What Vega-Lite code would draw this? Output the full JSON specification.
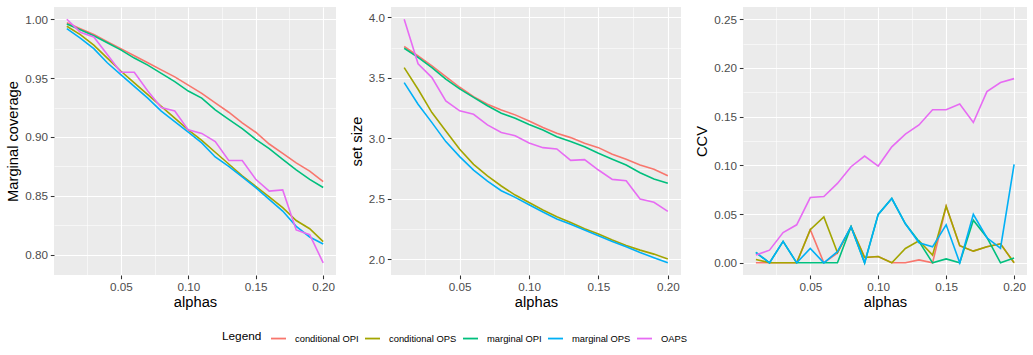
{
"$schema":"https://vega.github.io/schema/vega-lite/v6.json",
"padding":{"left":5,"top":7,"right":5,"bottom":5},
"background":"white",
"data":{"values":[
{"alphas":0.01,"method":"conditional OPI","metric":"cov","value":0.997},
{"alphas":0.02,"method":"conditional OPI","metric":"cov","value":0.992},
{"alphas":0.03,"method":"conditional OPI","metric":"cov","value":0.987},
{"alphas":0.04,"method":"conditional OPI","metric":"cov","value":0.981},
{"alphas":0.05,"method":"conditional OPI","metric":"cov","value":0.975},
{"alphas":0.06,"method":"conditional OPI","metric":"cov","value":0.969},
{"alphas":0.07,"method":"conditional OPI","metric":"cov","value":0.963},
{"alphas":0.08,"method":"conditional OPI","metric":"cov","value":0.957},
{"alphas":0.09,"method":"conditional OPI","metric":"cov","value":0.951},
{"alphas":0.10,"method":"conditional OPI","metric":"cov","value":0.944},
{"alphas":0.11,"method":"conditional OPI","metric":"cov","value":0.937},
{"alphas":0.12,"method":"conditional OPI","metric":"cov","value":0.929},
{"alphas":0.13,"method":"conditional OPI","metric":"cov","value":0.921},
{"alphas":0.14,"method":"conditional OPI","metric":"cov","value":0.912},
{"alphas":0.15,"method":"conditional OPI","metric":"cov","value":0.904},
{"alphas":0.16,"method":"conditional OPI","metric":"cov","value":0.894},
{"alphas":0.17,"method":"conditional OPI","metric":"cov","value":0.886},
{"alphas":0.18,"method":"conditional OPI","metric":"cov","value":0.878},
{"alphas":0.19,"method":"conditional OPI","metric":"cov","value":0.871},
{"alphas":0.20,"method":"conditional OPI","metric":"cov","value":0.862},
{"alphas":0.01,"method":"conditional OPI","metric":"size","value":3.760},
{"alphas":0.02,"method":"conditional OPI","metric":"size","value":3.683},
{"alphas":0.03,"method":"conditional OPI","metric":"size","value":3.600},
{"alphas":0.04,"method":"conditional OPI","metric":"size","value":3.512},
{"alphas":0.05,"method":"conditional OPI","metric":"size","value":3.423},
{"alphas":0.06,"method":"conditional OPI","metric":"size","value":3.346},
{"alphas":0.07,"method":"conditional OPI","metric":"size","value":3.283},
{"alphas":0.08,"method":"conditional OPI","metric":"size","value":3.236},
{"alphas":0.09,"method":"conditional OPI","metric":"size","value":3.195},
{"alphas":0.10,"method":"conditional OPI","metric":"size","value":3.145},
{"alphas":0.11,"method":"conditional OPI","metric":"size","value":3.090},
{"alphas":0.12,"method":"conditional OPI","metric":"size","value":3.043},
{"alphas":0.13,"method":"conditional OPI","metric":"size","value":3.007},
{"alphas":0.14,"method":"conditional OPI","metric":"size","value":2.960},
{"alphas":0.15,"method":"conditional OPI","metric":"size","value":2.924},
{"alphas":0.16,"method":"conditional OPI","metric":"size","value":2.869},
{"alphas":0.17,"method":"conditional OPI","metric":"size","value":2.828},
{"alphas":0.18,"method":"conditional OPI","metric":"size","value":2.780},
{"alphas":0.19,"method":"conditional OPI","metric":"size","value":2.745},
{"alphas":0.20,"method":"conditional OPI","metric":"size","value":2.692},
{"alphas":0.01,"method":"conditional OPI","metric":"ccv","value":0},
{"alphas":0.02,"method":"conditional OPI","metric":"ccv","value":0},
{"alphas":0.03,"method":"conditional OPI","metric":"ccv","value":0},
{"alphas":0.04,"method":"conditional OPI","metric":"ccv","value":0},
{"alphas":0.05,"method":"conditional OPI","metric":"ccv","value":0.034},
{"alphas":0.06,"method":"conditional OPI","metric":"ccv","value":0},
{"alphas":0.07,"method":"conditional OPI","metric":"ccv","value":0.010},
{"alphas":0.08,"method":"conditional OPI","metric":"ccv","value":0.037},
{"alphas":0.09,"method":"conditional OPI","metric":"ccv","value":0.0055},
{"alphas":0.10,"method":"conditional OPI","metric":"ccv","value":0.0065},
{"alphas":0.11,"method":"conditional OPI","metric":"ccv","value":0},
{"alphas":0.12,"method":"conditional OPI","metric":"ccv","value":0},
{"alphas":0.13,"method":"conditional OPI","metric":"ccv","value":0.003},
{"alphas":0.14,"method":"conditional OPI","metric":"ccv","value":0},
{"alphas":0.15,"method":"conditional OPI","metric":"ccv","value":0.058},
{"alphas":0.16,"method":"conditional OPI","metric":"ccv","value":0.0175},
{"alphas":0.17,"method":"conditional OPI","metric":"ccv","value":0.012},
{"alphas":0.18,"method":"conditional OPI","metric":"ccv","value":0.0165},
{"alphas":0.19,"method":"conditional OPI","metric":"ccv","value":0.0195},
{"alphas":0.20,"method":"conditional OPI","metric":"ccv","value":0},
{"alphas":0.01,"method":"conditional OPS","metric":"cov","value":0.994},
{"alphas":0.02,"method":"conditional OPS","metric":"cov","value":0.987},
{"alphas":0.03,"method":"conditional OPS","metric":"cov","value":0.978},
{"alphas":0.04,"method":"conditional OPS","metric":"cov","value":0.967},
{"alphas":0.05,"method":"conditional OPS","metric":"cov","value":0.956},
{"alphas":0.06,"method":"conditional OPS","metric":"cov","value":0.946},
{"alphas":0.07,"method":"conditional OPS","metric":"cov","value":0.936},
{"alphas":0.08,"method":"conditional OPS","metric":"cov","value":0.926},
{"alphas":0.09,"method":"conditional OPS","metric":"cov","value":0.916},
{"alphas":0.10,"method":"conditional OPS","metric":"cov","value":0.906},
{"alphas":0.11,"method":"conditional OPS","metric":"cov","value":0.897},
{"alphas":0.12,"method":"conditional OPS","metric":"cov","value":0.887},
{"alphas":0.13,"method":"conditional OPS","metric":"cov","value":0.877},
{"alphas":0.14,"method":"conditional OPS","metric":"cov","value":0.867},
{"alphas":0.15,"method":"conditional OPS","metric":"cov","value":0.858},
{"alphas":0.16,"method":"conditional OPS","metric":"cov","value":0.849},
{"alphas":0.17,"method":"conditional OPS","metric":"cov","value":0.840},
{"alphas":0.18,"method":"conditional OPS","metric":"cov","value":0.829},
{"alphas":0.19,"method":"conditional OPS","metric":"cov","value":0.822},
{"alphas":0.20,"method":"conditional OPS","metric":"cov","value":0.811},
{"alphas":0.01,"method":"conditional OPS","metric":"size","value":3.586},
{"alphas":0.02,"method":"conditional OPS","metric":"size","value":3.407},
{"alphas":0.03,"method":"conditional OPS","metric":"size","value":3.214},
{"alphas":0.04,"method":"conditional OPS","metric":"size","value":3.062},
{"alphas":0.05,"method":"conditional OPS","metric":"size","value":2.910},
{"alphas":0.06,"method":"conditional OPS","metric":"size","value":2.786},
{"alphas":0.07,"method":"conditional OPS","metric":"size","value":2.690},
{"alphas":0.08,"method":"conditional OPS","metric":"size","value":2.607},
{"alphas":0.09,"method":"conditional OPS","metric":"size","value":2.532},
{"alphas":0.10,"method":"conditional OPS","metric":"size","value":2.471},
{"alphas":0.11,"method":"conditional OPS","metric":"size","value":2.408},
{"alphas":0.12,"method":"conditional OPS","metric":"size","value":2.353},
{"alphas":0.13,"method":"conditional OPS","metric":"size","value":2.306},
{"alphas":0.14,"method":"conditional OPS","metric":"size","value":2.254},
{"alphas":0.15,"method":"conditional OPS","metric":"size","value":2.210},
{"alphas":0.16,"method":"conditional OPS","metric":"size","value":2.160},
{"alphas":0.17,"method":"conditional OPS","metric":"size","value":2.116},
{"alphas":0.18,"method":"conditional OPS","metric":"size","value":2.077},
{"alphas":0.19,"method":"conditional OPS","metric":"size","value":2.044},
{"alphas":0.20,"method":"conditional OPS","metric":"size","value":2.003},
{"alphas":0.01,"method":"conditional OPS","metric":"ccv","value":0.0035},
{"alphas":0.02,"method":"conditional OPS","metric":"ccv","value":0},
{"alphas":0.03,"method":"conditional OPS","metric":"ccv","value":0},
{"alphas":0.04,"method":"conditional OPS","metric":"ccv","value":0},
{"alphas":0.05,"method":"conditional OPS","metric":"ccv","value":0.034},
{"alphas":0.06,"method":"conditional OPS","metric":"ccv","value":0.047},
{"alphas":0.07,"method":"conditional OPS","metric":"ccv","value":0.0105},
{"alphas":0.08,"method":"conditional OPS","metric":"ccv","value":0.037},
{"alphas":0.09,"method":"conditional OPS","metric":"ccv","value":0.0055},
{"alphas":0.10,"method":"conditional OPS","metric":"ccv","value":0.0065},
{"alphas":0.11,"method":"conditional OPS","metric":"ccv","value":0},
{"alphas":0.12,"method":"conditional OPS","metric":"ccv","value":0.0147},
{"alphas":0.13,"method":"conditional OPS","metric":"ccv","value":0.0226},
{"alphas":0.14,"method":"conditional OPS","metric":"ccv","value":0.0079},
{"alphas":0.15,"method":"conditional OPS","metric":"ccv","value":0.058},
{"alphas":0.16,"method":"conditional OPS","metric":"ccv","value":0.0175},
{"alphas":0.17,"method":"conditional OPS","metric":"ccv","value":0.012},
{"alphas":0.18,"method":"conditional OPS","metric":"ccv","value":0.0165},
{"alphas":0.19,"method":"conditional OPS","metric":"ccv","value":0.0195},
{"alphas":0.20,"method":"conditional OPS","metric":"ccv","value":0},
{"alphas":0.01,"method":"marginal OPI","metric":"cov","value":0.996},
{"alphas":0.02,"method":"marginal OPI","metric":"cov","value":0.991},
{"alphas":0.03,"method":"marginal OPI","metric":"cov","value":0.986},
{"alphas":0.04,"method":"marginal OPI","metric":"cov","value":0.980},
{"alphas":0.05,"method":"marginal OPI","metric":"cov","value":0.974},
{"alphas":0.06,"method":"marginal OPI","metric":"cov","value":0.967},
{"alphas":0.07,"method":"marginal OPI","metric":"cov","value":0.961},
{"alphas":0.08,"method":"marginal OPI","metric":"cov","value":0.954},
{"alphas":0.09,"method":"marginal OPI","metric":"cov","value":0.947},
{"alphas":0.10,"method":"marginal OPI","metric":"cov","value":0.939},
{"alphas":0.11,"method":"marginal OPI","metric":"cov","value":0.933},
{"alphas":0.12,"method":"marginal OPI","metric":"cov","value":0.923},
{"alphas":0.13,"method":"marginal OPI","metric":"cov","value":0.915},
{"alphas":0.14,"method":"marginal OPI","metric":"cov","value":0.907},
{"alphas":0.15,"method":"marginal OPI","metric":"cov","value":0.898},
{"alphas":0.16,"method":"marginal OPI","metric":"cov","value":0.890},
{"alphas":0.17,"method":"marginal OPI","metric":"cov","value":0.881},
{"alphas":0.18,"method":"marginal OPI","metric":"cov","value":0.872},
{"alphas":0.19,"method":"marginal OPI","metric":"cov","value":0.864},
{"alphas":0.20,"method":"marginal OPI","metric":"cov","value":0.857},
{"alphas":0.01,"method":"marginal OPI","metric":"size","value":3.746},
{"alphas":0.02,"method":"marginal OPI","metric":"size","value":3.670},
{"alphas":0.03,"method":"marginal OPI","metric":"size","value":3.586},
{"alphas":0.04,"method":"marginal OPI","metric":"size","value":3.490},
{"alphas":0.05,"method":"marginal OPI","metric":"size","value":3.410},
{"alphas":0.06,"method":"marginal OPI","metric":"size","value":3.340},
{"alphas":0.07,"method":"marginal OPI","metric":"size","value":3.270},
{"alphas":0.08,"method":"marginal OPI","metric":"size","value":3.208},
{"alphas":0.09,"method":"marginal OPI","metric":"size","value":3.167},
{"alphas":0.10,"method":"marginal OPI","metric":"size","value":3.115},
{"alphas":0.11,"method":"marginal OPI","metric":"size","value":3.070},
{"alphas":0.12,"method":"marginal OPI","metric":"size","value":3.015},
{"alphas":0.13,"method":"marginal OPI","metric":"size","value":2.974},
{"alphas":0.14,"method":"marginal OPI","metric":"size","value":2.932},
{"alphas":0.15,"method":"marginal OPI","metric":"size","value":2.877},
{"alphas":0.16,"method":"marginal OPI","metric":"size","value":2.828},
{"alphas":0.17,"method":"marginal OPI","metric":"size","value":2.780},
{"alphas":0.18,"method":"marginal OPI","metric":"size","value":2.717},
{"alphas":0.19,"method":"marginal OPI","metric":"size","value":2.665},
{"alphas":0.20,"method":"marginal OPI","metric":"size","value":2.629},
{"alphas":0.01,"method":"marginal OPI","metric":"ccv","value":0.0106},
{"alphas":0.02,"method":"marginal OPI","metric":"ccv","value":0},
{"alphas":0.03,"method":"marginal OPI","metric":"ccv","value":0.022},
{"alphas":0.04,"method":"marginal OPI","metric":"ccv","value":0},
{"alphas":0.05,"method":"marginal OPI","metric":"ccv","value":0},
{"alphas":0.06,"method":"marginal OPI","metric":"ccv","value":0},
{"alphas":0.07,"method":"marginal OPI","metric":"ccv","value":0},
{"alphas":0.08,"method":"marginal OPI","metric":"ccv","value":0.037},
{"alphas":0.09,"method":"marginal OPI","metric":"ccv","value":0},
{"alphas":0.10,"method":"marginal OPI","metric":"ccv","value":0.0497},
{"alphas":0.11,"method":"marginal OPI","metric":"ccv","value":0.066},
{"alphas":0.12,"method":"marginal OPI","metric":"ccv","value":0.040},
{"alphas":0.13,"method":"marginal OPI","metric":"ccv","value":0.022},
{"alphas":0.14,"method":"marginal OPI","metric":"ccv","value":0},
{"alphas":0.15,"method":"marginal OPI","metric":"ccv","value":0.004},
{"alphas":0.16,"method":"marginal OPI","metric":"ccv","value":0},
{"alphas":0.17,"method":"marginal OPI","metric":"ccv","value":0.0438},
{"alphas":0.18,"method":"marginal OPI","metric":"ccv","value":0.026},
{"alphas":0.19,"method":"marginal OPI","metric":"ccv","value":0},
{"alphas":0.20,"method":"marginal OPI","metric":"ccv","value":0.005},
{"alphas":0.01,"method":"marginal OPS","metric":"cov","value":0.992},
{"alphas":0.02,"method":"marginal OPS","metric":"cov","value":0.984},
{"alphas":0.03,"method":"marginal OPS","metric":"cov","value":0.975},
{"alphas":0.04,"method":"marginal OPS","metric":"cov","value":0.963},
{"alphas":0.05,"method":"marginal OPS","metric":"cov","value":0.953},
{"alphas":0.06,"method":"marginal OPS","metric":"cov","value":0.943},
{"alphas":0.07,"method":"marginal OPS","metric":"cov","value":0.933},
{"alphas":0.08,"method":"marginal OPS","metric":"cov","value":0.922},
{"alphas":0.09,"method":"marginal OPS","metric":"cov","value":0.913},
{"alphas":0.10,"method":"marginal OPS","metric":"cov","value":0.904},
{"alphas":0.11,"method":"marginal OPS","metric":"cov","value":0.895},
{"alphas":0.12,"method":"marginal OPS","metric":"cov","value":0.883},
{"alphas":0.13,"method":"marginal OPS","metric":"cov","value":0.875},
{"alphas":0.14,"method":"marginal OPS","metric":"cov","value":0.866},
{"alphas":0.15,"method":"marginal OPS","metric":"cov","value":0.857},
{"alphas":0.16,"method":"marginal OPS","metric":"cov","value":0.847},
{"alphas":0.17,"method":"marginal OPS","metric":"cov","value":0.837},
{"alphas":0.18,"method":"marginal OPS","metric":"cov","value":0.824},
{"alphas":0.19,"method":"marginal OPS","metric":"cov","value":0.815},
{"alphas":0.20,"method":"marginal OPS","metric":"cov","value":0.809},
{"alphas":0.01,"method":"marginal OPS","metric":"size","value":3.462},
{"alphas":0.02,"method":"marginal OPS","metric":"size","value":3.283},
{"alphas":0.03,"method":"marginal OPS","metric":"size","value":3.131},
{"alphas":0.04,"method":"marginal OPS","metric":"size","value":2.974},
{"alphas":0.05,"method":"marginal OPS","metric":"size","value":2.850},
{"alphas":0.06,"method":"marginal OPS","metric":"size","value":2.739},
{"alphas":0.07,"method":"marginal OPS","metric":"size","value":2.648},
{"alphas":0.08,"method":"marginal OPS","metric":"size","value":2.568},
{"alphas":0.09,"method":"marginal OPS","metric":"size","value":2.513},
{"alphas":0.10,"method":"marginal OPS","metric":"size","value":2.452},
{"alphas":0.11,"method":"marginal OPS","metric":"size","value":2.392},
{"alphas":0.12,"method":"marginal OPS","metric":"size","value":2.334},
{"alphas":0.13,"method":"marginal OPS","metric":"size","value":2.290},
{"alphas":0.14,"method":"marginal OPS","metric":"size","value":2.243},
{"alphas":0.15,"method":"marginal OPS","metric":"size","value":2.196},
{"alphas":0.16,"method":"marginal OPS","metric":"size","value":2.149},
{"alphas":0.17,"method":"marginal OPS","metric":"size","value":2.105},
{"alphas":0.18,"method":"marginal OPS","metric":"size","value":2.058},
{"alphas":0.19,"method":"marginal OPS","metric":"size","value":2.014},
{"alphas":0.20,"method":"marginal OPS","metric":"size","value":1.972},
{"alphas":0.01,"method":"marginal OPS","metric":"ccv","value":0.0106},
{"alphas":0.02,"method":"marginal OPS","metric":"ccv","value":0},
{"alphas":0.03,"method":"marginal OPS","metric":"ccv","value":0.022},
{"alphas":0.04,"method":"marginal OPS","metric":"ccv","value":0},
{"alphas":0.05,"method":"marginal OPS","metric":"ccv","value":0.0147},
{"alphas":0.06,"method":"marginal OPS","metric":"ccv","value":0},
{"alphas":0.07,"method":"marginal OPS","metric":"ccv","value":0.0115},
{"alphas":0.08,"method":"marginal OPS","metric":"ccv","value":0.037},
{"alphas":0.09,"method":"marginal OPS","metric":"ccv","value":0},
{"alphas":0.10,"method":"marginal OPS","metric":"ccv","value":0.0497},
{"alphas":0.11,"method":"marginal OPS","metric":"ccv","value":0.066},
{"alphas":0.12,"method":"marginal OPS","metric":"ccv","value":0.040},
{"alphas":0.13,"method":"marginal OPS","metric":"ccv","value":0.0205},
{"alphas":0.14,"method":"marginal OPS","metric":"ccv","value":0.0164},
{"alphas":0.15,"method":"marginal OPS","metric":"ccv","value":0.039},
{"alphas":0.16,"method":"marginal OPS","metric":"ccv","value":0},
{"alphas":0.17,"method":"marginal OPS","metric":"ccv","value":0.0497},
{"alphas":0.18,"method":"marginal OPS","metric":"ccv","value":0.0257},
{"alphas":0.19,"method":"marginal OPS","metric":"ccv","value":0.015},
{"alphas":0.20,"method":"marginal OPS","metric":"ccv","value":0.101},
{"alphas":0.01,"method":"OAPS","metric":"cov","value":1.000},
{"alphas":0.02,"method":"OAPS","metric":"cov","value":0.989},
{"alphas":0.03,"method":"OAPS","metric":"cov","value":0.985},
{"alphas":0.04,"method":"OAPS","metric":"cov","value":0.970},
{"alphas":0.05,"method":"OAPS","metric":"cov","value":0.955},
{"alphas":0.06,"method":"OAPS","metric":"cov","value":0.955},
{"alphas":0.07,"method":"OAPS","metric":"cov","value":0.939},
{"alphas":0.08,"method":"OAPS","metric":"cov","value":0.925},
{"alphas":0.09,"method":"OAPS","metric":"cov","value":0.922},
{"alphas":0.10,"method":"OAPS","metric":"cov","value":0.906},
{"alphas":0.11,"method":"OAPS","metric":"cov","value":0.903},
{"alphas":0.12,"method":"OAPS","metric":"cov","value":0.896},
{"alphas":0.13,"method":"OAPS","metric":"cov","value":0.880},
{"alphas":0.14,"method":"OAPS","metric":"cov","value":0.880},
{"alphas":0.15,"method":"OAPS","metric":"cov","value":0.864},
{"alphas":0.16,"method":"OAPS","metric":"cov","value":0.854},
{"alphas":0.17,"method":"OAPS","metric":"cov","value":0.855},
{"alphas":0.18,"method":"OAPS","metric":"cov","value":0.821},
{"alphas":0.19,"method":"OAPS","metric":"cov","value":0.817},
{"alphas":0.20,"method":"OAPS","metric":"cov","value":0.793},
{"alphas":0.01,"method":"OAPS","metric":"size","value":3.986},
{"alphas":0.02,"method":"OAPS","metric":"size","value":3.617},
{"alphas":0.03,"method":"OAPS","metric":"size","value":3.503},
{"alphas":0.04,"method":"OAPS","metric":"size","value":3.310},
{"alphas":0.05,"method":"OAPS","metric":"size","value":3.228},
{"alphas":0.06,"method":"OAPS","metric":"size","value":3.200},
{"alphas":0.07,"method":"OAPS","metric":"size","value":3.112},
{"alphas":0.08,"method":"OAPS","metric":"size","value":3.050},
{"alphas":0.09,"method":"OAPS","metric":"size","value":3.023},
{"alphas":0.10,"method":"OAPS","metric":"size","value":2.963},
{"alphas":0.11,"method":"OAPS","metric":"size","value":2.924},
{"alphas":0.12,"method":"OAPS","metric":"size","value":2.913},
{"alphas":0.13,"method":"OAPS","metric":"size","value":2.819},
{"alphas":0.14,"method":"OAPS","metric":"size","value":2.825},
{"alphas":0.15,"method":"OAPS","metric":"size","value":2.739},
{"alphas":0.16,"method":"OAPS","metric":"size","value":2.662},
{"alphas":0.17,"method":"OAPS","metric":"size","value":2.651},
{"alphas":0.18,"method":"OAPS","metric":"size","value":2.499},
{"alphas":0.19,"method":"OAPS","metric":"size","value":2.472},
{"alphas":0.20,"method":"OAPS","metric":"size","value":2.397},
{"alphas":0.01,"method":"OAPS","metric":"ccv","value":0.0079},
{"alphas":0.02,"method":"OAPS","metric":"ccv","value":0.013},
{"alphas":0.03,"method":"OAPS","metric":"ccv","value":0.031},
{"alphas":0.04,"method":"OAPS","metric":"ccv","value":0.039},
{"alphas":0.05,"method":"OAPS","metric":"ccv","value":0.067},
{"alphas":0.06,"method":"OAPS","metric":"ccv","value":0.068},
{"alphas":0.07,"method":"OAPS","metric":"ccv","value":0.0815},
{"alphas":0.08,"method":"OAPS","metric":"ccv","value":0.0986},
{"alphas":0.09,"method":"OAPS","metric":"ccv","value":0.1096},
{"alphas":0.10,"method":"OAPS","metric":"ccv","value":0.0993},
{"alphas":0.11,"method":"OAPS","metric":"ccv","value":0.119},
{"alphas":0.12,"method":"OAPS","metric":"ccv","value":0.132},
{"alphas":0.13,"method":"OAPS","metric":"ccv","value":0.1414},
{"alphas":0.14,"method":"OAPS","metric":"ccv","value":0.157},
{"alphas":0.15,"method":"OAPS","metric":"ccv","value":0.157},
{"alphas":0.16,"method":"OAPS","metric":"ccv","value":0.163},
{"alphas":0.17,"method":"OAPS","metric":"ccv","value":0.144},
{"alphas":0.18,"method":"OAPS","metric":"ccv","value":0.1757},
{"alphas":0.19,"method":"OAPS","metric":"ccv","value":0.185},
{"alphas":0.20,"method":"OAPS","metric":"ccv","value":0.189}
]},
"spacing":13,
"hconcat":[
{
"width":282,"height":268,
"transform":[{"filter":"datum.metric==='cov'"}],
"mark":{"type":"line","strokeWidth":1.6},
"encoding":{
"x":{"field":"alphas","type":"quantitative","scale":{"domain":[0.0005,0.2095],"nice":false,"zero":false},
"axis":{"title":"alphas","values":[0.025,0.05,0.075,0.1,0.125,0.15,0.175,0.2],"labelExpr":"round(datum.value*1000)%50==0 ? format(datum.value,'.2f') : ''","gridWidth":{"condition":{"test":"round(datum.value*1000)%50==0","value":1.1},"value":0.55},"tickOpacity":{"condition":{"test":"round(datum.value*1000)%50==0","value":1},"value":0}}},
"y":{"field":"value","type":"quantitative","scale":{"domain":[0.7827,1.0104],"nice":false,"zero":false},
"axis":{"title":"Marginal coverage","values":[0.8,0.825,0.85,0.875,0.9,0.925,0.95,0.975,1.0],"labelExpr":"round(datum.value*1000)%50==0 ? format(datum.value,'.2f') : ''","gridWidth":{"condition":{"test":"round(datum.value*1000)%50==0","value":1.1},"value":0.55},"tickOpacity":{"condition":{"test":"round(datum.value*1000)%50==0","value":1},"value":0}}},
"color":{"field":"method","type":"nominal","title":"Legend","scale":{"domain":["conditional OPI","conditional OPS","marginal OPI","marginal OPS","OAPS"],"range":["#F8766D","#A3A500","#00BF7D","#00B0F6","#E76BF3"]},
"legend":{"orient":"none","legendX":168,"legendY":323,"direction":"horizontal","titleOrient":"left"}}
}
},
{
"width":290,"height":268,
"transform":[{"filter":"datum.metric==='size'"}],
"mark":{"type":"line","strokeWidth":1.6},
"encoding":{
"x":{"field":"alphas","type":"quantitative","scale":{"domain":[0.0005,0.2095],"nice":false,"zero":false},
"axis":{"title":"alphas","values":[0.025,0.05,0.075,0.1,0.125,0.15,0.175,0.2],"labelExpr":"round(datum.value*1000)%50==0 ? format(datum.value,'.2f') : ''","gridWidth":{"condition":{"test":"round(datum.value*1000)%50==0","value":1.1},"value":0.55},"tickOpacity":{"condition":{"test":"round(datum.value*1000)%50==0","value":1},"value":0}}},
"y":{"field":"value","type":"quantitative","scale":{"domain":[1.8713,4.0867],"nice":false,"zero":false},
"axis":{"title":"set size","values":[2.0,2.25,2.5,2.75,3.0,3.25,3.5,3.75,4.0],"labelExpr":"round(datum.value*100)%50==0 ? format(datum.value,'.1f') : ''","gridWidth":{"condition":{"test":"round(datum.value*100)%50==0","value":1.1},"value":0.55},"tickOpacity":{"condition":{"test":"round(datum.value*100)%50==0","value":1},"value":0}}},
"color":{"field":"method","type":"nominal","title":"Legend","scale":{"domain":["conditional OPI","conditional OPS","marginal OPI","marginal OPS","OAPS"],"range":["#F8766D","#A3A500","#00BF7D","#00B0F6","#E76BF3"]},
"legend":{"orient":"none","legendX":168,"legendY":323,"direction":"horizontal","titleOrient":"left"}}
}
},
{
"width":284,"height":268,
"transform":[{"filter":"datum.metric==='ccv'"}],
"mark":{"type":"line","strokeWidth":1.6},
"encoding":{
"x":{"field":"alphas","type":"quantitative","scale":{"domain":[0.0005,0.2095],"nice":false,"zero":false},
"axis":{"title":"alphas","values":[0.025,0.05,0.075,0.1,0.125,0.15,0.175,0.2],"labelExpr":"round(datum.value*1000)%50==0 ? format(datum.value,'.2f') : ''","gridWidth":{"condition":{"test":"round(datum.value*1000)%50==0","value":1.1},"value":0.55},"tickOpacity":{"condition":{"test":"round(datum.value*1000)%50==0","value":1},"value":0}}},
"y":{"field":"value","type":"quantitative","scale":{"domain":[-0.0125,0.2625],"nice":false,"zero":false},
"axis":{"title":"CCV","values":[0,0.025,0.05,0.075,0.1,0.125,0.15,0.175,0.2,0.225,0.25],"labelExpr":"round(datum.value*1000)%50==0 ? format(datum.value,'.2f') : ''","gridWidth":{"condition":{"test":"round(datum.value*1000)%50==0","value":1.1},"value":0.55},"tickOpacity":{"condition":{"test":"round(datum.value*1000)%50==0","value":1},"value":0}}},
"color":{"field":"method","type":"nominal","title":"Legend","scale":{"domain":["conditional OPI","conditional OPS","marginal OPI","marginal OPS","OAPS"],"range":["#F8766D","#A3A500","#00BF7D","#00B0F6","#E76BF3"]},
"legend":{"orient":"none","legendX":168,"legendY":323,"direction":"horizontal","titleOrient":"left"}}
}
}
],
"config":{
"font":"Liberation Sans",
"view":{"fill":"#EBEBEB","stroke":null},
"axis":{"domain":false,"gridColor":"#FFFFFF","gridOpacity":1,"tickColor":"#333333","tickSize":3.7,"tickWidth":1.07,"labelColor":"#4D4D4D","labelFontSize":11.7,"labelFont":"Liberation Sans","labelPadding":2.9,"labelFlush":false,"labelOverlap":false,"titleFont":"Liberation Sans","titleFontSize":14.7,"titleFontWeight":"normal","titleColor":"#000000","titlePadding":3.7},
"axisX":{"titlePadding":1},
"legend":{"titleFont":"Liberation Sans","titleFontSize":11.8,"titleFontWeight":"normal","titleColor":"#000000","labelFont":"Liberation Sans","labelFontSize":9.4,"labelColor":"#000000","symbolType":"stroke","symbolStrokeWidth":1.8,"symbolSize":225,"labelOffset":8,"columnPadding":2,"titlePadding":8,"titleBaseline":"middle"}
}
}
